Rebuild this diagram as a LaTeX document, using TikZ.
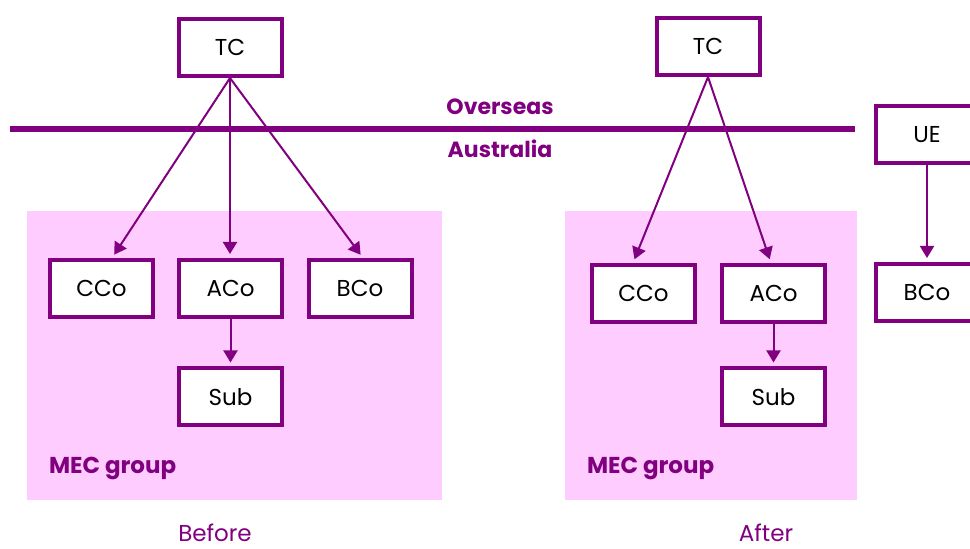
\documentclass[tikz,border=0pt]{standalone}
\usepackage{fontspec}
\setmainfont{Poppins}
\usetikzlibrary{arrows.meta}
\definecolor{mecpurple}{RGB}{128,0,128}
\definecolor{mecpink}{RGB}{255,204,255}

\begin{document}
\begin{tikzpicture}[x=0.5pt, y=-0.5pt,
    entity/.style ={rectangle, draw=mecpurple, line width=2pt, fill=white,
      minimum width=51.5pt, minimum height=28.5pt, inner sep=0pt,
      font=\fontsize{11.5}{13}\selectfont},
    link/.style ={mecpurple, line width=1pt, -{Triangle[length=6pt,width=7pt]}, shorten >=2pt},
    side/.style ={text=mecpurple, font=\fontsize{11}{13}\selectfont\bfseries},
    stage/.style ={text=mecpurple, font=\fontsize{11.5}{13}\selectfont}]
   \useasboundingbox (0,0) rectangle (970,549);

   % group areas
   \fill[mecpink] (27,211) rectangle (442,500);
   \fill[mecpink] (565,211) rectangle (857,500);

   % border line
   \draw[mecpurple, line width=3pt] (10,129) -- (855,129);
   \node[side] (overseas)  at (500,107) {Overseas};
   \node[side] (australia) at (500,149) {Australia};

   % before
   \node[entity] (lTC)  at (230,47.5)   {TC};
   \node[entity] (lCCo) at (101.5,288.5) {CCo};
   \node[entity] (lACo) at (230.5,288.5) {ACo};
   \node[entity] (lBCo) at (360,288.5)   {BCo};
   \node[entity] (lSub) at (230.5,397)   {Sub};

   % after
   \node[entity] (rTC)  at (708,46.5)    {TC};
   \node[entity] (rCCo) at (643.5,293.5) {CCo};
   \node[entity] (rACo) at (773.5,293.5) {ACo};
   \node[entity] (rSub) at (773.5,397)   {Sub};
   \node[entity] (UE)   at (927,135)     {UE};
   \node[entity] (rBCo) at (927,292.5)   {BCo};

   \draw[link] (lTC.south) to ([xshift=5.25pt]lCCo.north);
   \draw[link] (lTC.south) to (lTC.south |- lACo.north);
   \draw[link] (lTC.south) to ([xshift=1.5pt]lBCo.north);
   \draw[link] (lACo) to (lSub);
   \draw[link] (rTC.south) to ([xshift=-5.25pt]rCCo.north);
   \draw[link] (rTC.south) to ([xshift=-1.25pt]rACo.north);
   \draw[link] (rACo) to (rSub);
   \draw[link] (UE) to (rBCo);

   \node[side, font=\fontsize{11.5}{13}\selectfont\bfseries, anchor=west] (lgroup) at (42,469)  {MEC group};
   \node[side, font=\fontsize{11.5}{13}\selectfont\bfseries, anchor=west] (rgroup) at (580,469) {MEC group};
   \node[stage] (before) at (215,533) {Before};
   \node[stage] (after)  at (766,533) {After};
 \end{tikzpicture}
\end{document}
